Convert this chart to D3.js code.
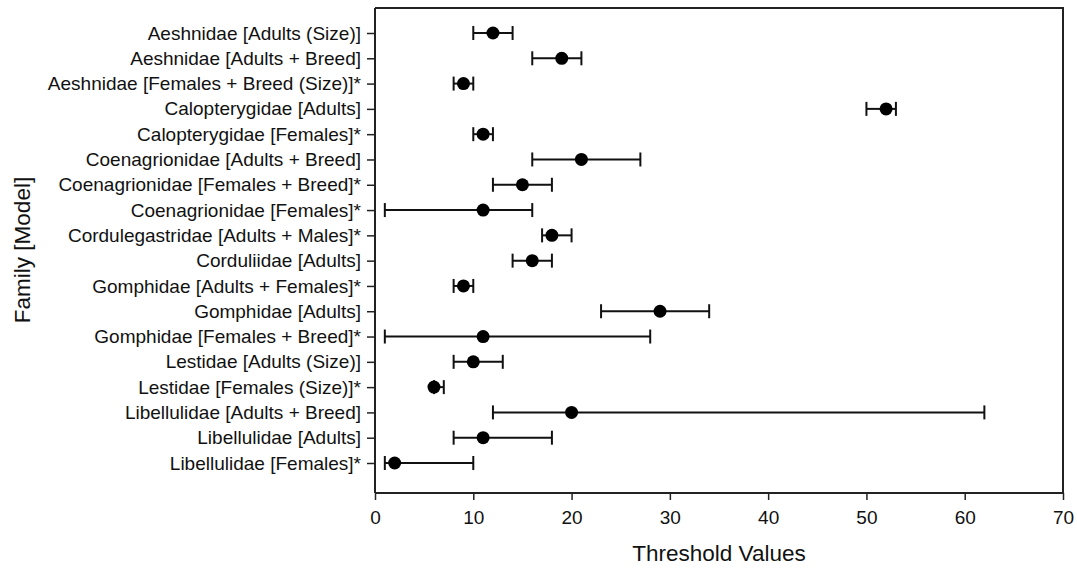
<!DOCTYPE html>
<html>
<head>
<meta charset="utf-8">
<script src="https://cdn.jsdelivr.net/npm/d3@7"></script>
<style>
  body { margin: 0; background: white; }
  text { font-family: "Liberation Sans", Arial, sans-serif; fill: #111; }
</style>
</head>
<body>
<div id="chart"></div>
<script>
// Data
const families = [
    "Aeshnidae [Adults (Size)]",
    "Aeshnidae [Adults + Breed]",
    "Aeshnidae [Females + Breed (Size)]*",
    "Calopterygidae [Adults]",
    "Calopterygidae [Females]*",
    "Coenagrionidae [Adults + Breed]",
    "Coenagrionidae [Females + Breed]*",
    "Coenagrionidae [Females]*",
    "Cordulegastridae [Adults + Males]*",
    "Corduliidae [Adults]",
    "Gomphidae [Adults + Females]*",
    "Gomphidae [Adults]",
    "Gomphidae [Females + Breed]*",
    "Lestidae [Adults (Size)]",
    "Lestidae [Females (Size)]*",
    "Libellulidae [Adults + Breed]",
    "Libellulidae [Adults]",
    "Libellulidae [Females]*"
];
const thresholds = [12, 19, 9, 52, 11, 21, 15, 11, 18, 16, 9, 29, 11, 10, 6, 20, 11, 2];
const lower      = [10, 16, 8, 50, 10, 16, 12, 1, 17, 14, 8, 23, 1, 8, 6, 12, 8, 1];
const upper      = [14, 21, 10, 53, 12, 27, 18, 16, 20, 18, 10, 34, 28, 13, 7, 62, 18, 10];
const xTicks = [0, 10, 20, 30, 40, 50, 60, 70];

let width = 1077, height = 571;
let margin = { top: 8, bottom: 78, left: 375, right: 14 };

let svg = d3.select("#chart")
    .append("svg")
    .attr("width", width)
    .attr("height", height)
    .style("background", "white");

let data = families.map((f, i) => ({ family: f, value: thresholds[i], lo: lower[i], hi: upper[i] }));

// Scales
let xScale = d3.scaleLinear()
    .domain([0, 70])
    .range([margin.left, width - margin.right]);

let yScale = d3.scalePoint()
    .domain(families)
    .range([margin.top + 25, height - margin.bottom - 30]);

// Frame (top and right)
svg.append("path")
    .attr("d", `M${margin.left},${margin.top}H${width - margin.right}V${height - margin.bottom}`)
    .attr("fill", "none")
    .attr("stroke", "#222")
    .attr("stroke-width", 2);

// Axes
let xAxis = svg.append("g")
    .attr("transform", `translate(0,${height - margin.bottom})`)
    .call(d3.axisBottom(xScale).tickValues(xTicks).tickSize(7).tickSizeOuter(0).tickPadding(11));

let yAxis = svg.append("g")
    .attr("transform", `translate(${margin.left},0)`)
    .call(d3.axisLeft(yScale).tickSize(8).tickSizeOuter(0).tickPadding(6));

[xAxis, yAxis].forEach(ax => {
    ax.select(".domain").attr("stroke", "#222").attr("stroke-width", 2);
    ax.selectAll(".tick line").attr("stroke", "#222").attr("stroke-width", 1.5);
    ax.selectAll("text")
        .style("font-size", "19px")
        .style("font-family", "'Liberation Sans', Arial, sans-serif")
        .attr("fill", "#111");
});
yAxis.select(".domain").attr("d", `M0,${margin.top}V${height - margin.bottom}`);
xAxis.select(".domain").attr("d", `M${margin.left},0H${width - margin.right}`);

// Axis titles
svg.append("text")
    .attr("x", (margin.left + width - margin.right) / 2)
    .attr("y", 561)
    .attr("text-anchor", "middle")
    .style("font-size", "22.5px")
    .text("Threshold Values");

svg.append("text")
    .attr("transform", "rotate(-90)")
    .attr("x", -250)
    .attr("y", 30)
    .attr("text-anchor", "middle")
    .style("font-size", "22.5px")
    .text("Family [Model]");

// Error bars
let bars = svg.append("g");
bars.selectAll(".err")
    .data(data)
    .enter()
    .append("line")
    .attr("x1", d => xScale(d.lo))
    .attr("x2", d => xScale(d.hi))
    .attr("y1", d => yScale(d.family))
    .attr("y2", d => yScale(d.family))
    .attr("stroke", "#111")
    .attr("stroke-width", 2);

["lo", "hi"].forEach(k => {
    bars.selectAll(".cap-" + k)
        .data(data)
        .enter()
        .append("line")
        .attr("x1", d => xScale(d[k]))
        .attr("x2", d => xScale(d[k]))
        .attr("y1", d => yScale(d.family) - 7)
        .attr("y2", d => yScale(d.family) + 7)
        .attr("stroke", "#111")
        .attr("stroke-width", 2);
});

// Points
svg.append("g").selectAll("circle")
    .data(data)
    .enter()
    .append("circle")
    .attr("cx", d => xScale(d.value))
    .attr("cy", d => yScale(d.family))
    .attr("r", 6.5)
    .attr("fill", "#000");
</script>
</body>
</html>
